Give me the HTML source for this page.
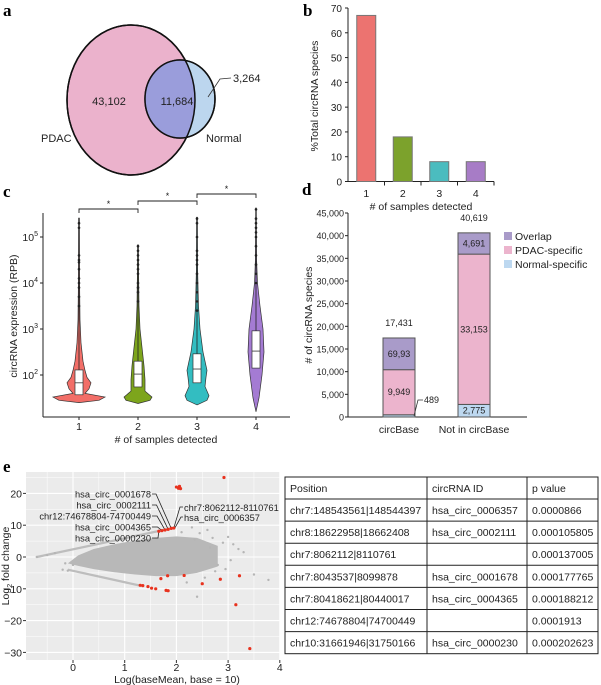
<!DOCTYPE html>
<html><head><meta charset="utf-8"><style>
body{margin:0;background:#fff;}
svg{display:block;font-family:"Liberation Sans",sans-serif;}
.pl{font-family:"Liberation Serif",serif;font-weight:bold;font-size:17px;}
</style></head><body>
<svg id="fig" width="601" height="685" viewBox="0 0 601 685">
<g>
<text class="pl" x="3" y="16">a</text>
<ellipse cx="131" cy="100" rx="64" ry="75" fill="#ebb2cc" stroke="#111" stroke-width="1.5"/>
<ellipse cx="180" cy="99" rx="35" ry="39" fill="#bcd6ee" stroke="#111" stroke-width="1.5"/>
<clipPath id="pc"><ellipse cx="131" cy="100" rx="64" ry="75"/></clipPath>
<ellipse cx="180" cy="99" rx="35" ry="39" fill="#9a9ddb" clip-path="url(#pc)"/>
<ellipse cx="180" cy="99" rx="35" ry="39" fill="none" stroke="#111" stroke-width="1.5"/>
<ellipse cx="131" cy="100" rx="64" ry="75" fill="none" stroke="#111" stroke-width="1.5"/>
<g font-size="11" fill="#222">
<text x="109" y="105" text-anchor="middle">43,102</text>
<text x="177" y="105" text-anchor="middle">11,684</text>
<text x="41" y="142">PDAC</text>
<text x="206" y="142">Normal</text>
<text x="233" y="82">3,264</text>
</g>
<polyline points="208,97 220,79 231,78" fill="none" stroke="#333" stroke-width="0.8"/>
</g>

<g id="pb">
<text class="pl" x="303" y="16">b</text>
</g>

<g id="pcv">
<text class="pl" x="3" y="197">c</text>
</g>

<g id="pd">
<text class="pl" x="302" y="195">d</text>
</g>

<g id="pe">
<text class="pl" x="3" y="472">e</text>
</g>

<g id="tbl"></g>
</svg>
<script>
const NS="http://www.w3.org/2000/svg";
function mk(parent,tag,attrs,txt){const e=document.createElementNS(NS,tag);for(const k in attrs)e.setAttribute(k,attrs[k]);if(txt!==undefined)e.textContent=txt;parent.appendChild(e);return e;}

/* ---------- Panel b data ---------- */
const bCategories=["1","2","3","4"];
const bValues=[67,18,8,8];
const bTicks=[0,10,20,30,40,50,60,70];
const bColors=["#ec7370","#7ca22c","#4bbcbf","#a77cc6"];
(function(){
  const g=document.getElementById('pb');
  const x0=348,x1=494,yb=181.5,yt=8,ymax=70;
  const ys=v=>yb-(v/ymax)*(yb-yt);
  const bw=(x1-x0)/bCategories.length;
  mk(g,'line',{x1:x0,y1:yt,x2:x0,y2:yb,stroke:'#222','stroke-width':1});
  mk(g,'line',{x1:x0,y1:yb,x2:x1,y2:yb,stroke:'#222','stroke-width':1});
  bTicks.forEach(t=>{
    mk(g,'line',{x1:x0-3,y1:ys(t),x2:x0,y2:ys(t),stroke:'#222'});
    const l=mk(g,'text',{x:x0-6,y:ys(t)+4,'text-anchor':'end','font-size':10,fill:'#222'},t);
    
    
  });
  bCategories.forEach((c,i)=>{
    const cx=x0+bw*(i+0.5);
    mk(g,'line',{x1:x0+bw*(i+1),y1:yb,x2:x0+bw*(i+1),y2:yb+4,stroke:'#222'});
    const r=mk(g,'rect',{x:cx-9.5,y:ys(bValues[i]),width:19,height:yb-ys(bValues[i]),fill:bColors[i],stroke:'#777','stroke-width':1});
    
    
    const t=mk(g,'text',{x:cx,y:197,'text-anchor':'middle','font-size':10.5,fill:'#222'},c);
    
    
  });
  const xt=mk(g,'text',{x:421,y:210,'text-anchor':'middle','font-size':10.5,fill:'#222'},'# of samples detected');
  
  
  const yt2=mk(g,'text',{x:0,y:0,'text-anchor':'middle','font-size':10.5,fill:'#222',transform:'translate(318,96) rotate(-90)'},'%Total circRNA species');
  
  
})();

/* ---------- Panel c data (log10 RPB) ---------- */
const cCategories=["1","2","3","4"];
const cQ1=[1.57,1.74,1.83,2.15];
const cMedian=[1.83,2.02,2.13,2.52];
const cQ3=[2.11,2.30,2.46,2.96];
const cMax=[5.41,4.83,5.43,5.63];
const cDensityLevels=[[1.40,1.45,1.52,1.60,1.70,1.83,1.95,2.1,2.3,2.7,3.2,4,5.41],[1.38,1.45,1.52,1.65,1.9,2.2,2.6,3.0,3.5,4.2,4.83],[1.35,1.45,1.55,1.75,1.95,2.1,2.5,3.0,3.5,4.3,5.43],[1.2,1.5,2.0,2.5,3.0,3.5,4.0,4.5,5.63]];
const cDensityWidths=[[0,20,26,6,10,12,8,6,4,2,1,0.6,0.4],[0,12,14,7,7,6,4,2,1,0.6,0.4],[0,10,12,8,9,10,6,3,1.5,0.6,0.4],[0,3,6,8,7,4,1.5,0.6,0.3]];
const cOutliers=[[3.5,3.7,3.9,4.0,4.1,4.3,4.45,4.5,4.6,5.2,5.3],[3.6,3.8,3.9,4.0,4.2,4.3,4.4,4.5,4.6,4.7,4.8],[3.4,3.6,3.8,4.0,4.2,4.4,4.5,4.6,4.7,5.0,5.3,5.4],[4.0,4.2,4.4,4.6,4.8,5.0,5.1,5.2,5.3,5.4,5.6]];
const cTickExp=[2,3,4,5];
const cColors=["#f26e68","#7da51c","#33bdc1","#a47bd3"];
(function(){
  const g=document.getElementById('pcv');
  const xL=43,xR=290,yBot=417,yTop=213;
  const ys=lv=>375-(lv-2)*46;
  const xs=i=>79+i*59;
  mk(g,'line',{x1:xL,y1:yTop,x2:xL,y2:yBot,stroke:'#222'});
  mk(g,'line',{x1:xL,y1:yBot,x2:xR,y2:yBot,stroke:'#222'});
  cTickExp.forEach(e=>{
    mk(g,'line',{x1:xL-3,y1:ys(e),x2:xL,y2:ys(e),stroke:'#222'});
    const t=mk(g,'text',{x:xL-5,y:ys(e)+4,'text-anchor':'end','font-size':10.5,fill:'#222'});
    
    
    mk(t,'tspan',{},'10');mk(t,'tspan',{dy:-5,'font-size':7},String(e));
  });
  cCategories.forEach((c,i)=>{
    const cx=xs(i);
    mk(g,'line',{x1:cx,y1:yBot,x2:cx,y2:yBot+3,stroke:'#222'});
    const tl=mk(g,'text',{x:cx,y:430,'text-anchor':'middle','font-size':10.5,fill:'#222'},c);
    
    
    const L=cDensityLevels[i],W=cDensityWidths[i];
    let d='M'+(cx+W[0])+','+ys(L[0]);
    for(let k=1;k<L.length;k++)d+=' L'+(cx+W[k])+','+ys(L[k]);
    for(let k=L.length-1;k>=0;k--)d+=' L'+(cx-W[k])+','+ys(L[k]);
    d+='Z';
    const v=mk(g,'path',{d:d,fill:cColors[i],stroke:'#333','stroke-width':0.7});
    
    
    mk(g,'line',{x1:cx,y1:ys(cQ3[i]),x2:cx,y2:ys(cMax[i]),stroke:'#222','stroke-width':0.8});
    cOutliers[i].forEach(o=>{
      const p=mk(g,'circle',{cx:cx,cy:ys(o),r:1.3,fill:'#222'});
      
      
    });
    const b=mk(g,'rect',{x:cx-4,y:ys(cQ3[i]),width:8,height:ys(cQ1[i])-ys(cQ3[i]),fill:'#fff',stroke:'#333','stroke-width':0.7});
    
    
    mk(g,'line',{x1:cx-4,y1:ys(cMedian[i]),x2:cx+4,y2:ys(cMedian[i]),stroke:'#333','stroke-width':0.8});
  });
  [[0,1,209],[1,2,201],[2,3,194]].forEach(b=>{
    const a=xs(b[0]),c=xs(b[1]);
    const br=mk(g,'polyline',{points:`${a},${b[2]+4} ${a},${b[2]} ${c},${b[2]} ${c},${b[2]+4}`,fill:'none',stroke:'#222','stroke-width':0.9});
    
    
    mk(g,'text',{x:(a+c)/2,y:b[2]-2,'text-anchor':'middle','font-size':9,fill:'#222'},'*');
  });
  const xt=mk(g,'text',{x:166,y:443,'text-anchor':'middle','font-size':10.5,fill:'#222'},'# of samples detected');
  
  
  const yt=mk(g,'text',{x:0,y:0,'text-anchor':'middle','font-size':10.5,fill:'#222',transform:'translate(17,316) rotate(-90)'},'circRNA expression (RPB)');
  
  
})();

/* ---------- Panel d data ---------- */
const dCategories=["circBase","Not in circBase"];
const dNormal=[489,2775];
const dPdac=[9949,33153];
const dOverlap=[6993,4691];
const dTotals=["17,431","40,619"];
const dPdacLabels=["9,949","33,153"];
const dOverlapLabels=["69,93","4,691"];
const dTicks=[0,5000,10000,15000,20000,25000,30000,35000,40000,45000];
(function(){
  const g=document.getElementById('pd');
  const x0=348,x1=527,yb=417,yt=213,max=45000;
  const ys=v=>yb-(v/max)*(yb-yt);
  const bx=[383,458],bw=32;
  mk(g,'line',{x1:x0,y1:yt,x2:x0,y2:yb,stroke:'#222'});
  mk(g,'line',{x1:x0,y1:yb,x2:x1,y2:yb,stroke:'#222'});
  dTicks.forEach(t=>{
    mk(g,'line',{x1:x0-3,y1:ys(t),x2:x0,y2:ys(t),stroke:'#222'});
    const l=mk(g,'text',{x:x0-4,y:ys(t)+3.5,'text-anchor':'end','font-size':9,fill:'#222'},t.toLocaleString('en-US'));
    
    
  });
  const cols={n:'#bdd8f0',p:'#ecb4cd',o:'#a99bc9'};
  dCategories.forEach((c,i)=>{
    const x=bx[i];
    const segs=[[0,dNormal[i],cols.n,'normal-specific'],[dNormal[i],dNormal[i]+dPdac[i],cols.p,'pdac-specific'],[dNormal[i]+dPdac[i],dNormal[i]+dPdac[i]+dOverlap[i],cols.o,'overlap']];
    segs.forEach(s=>{
      const r=mk(g,'rect',{x:x,y:ys(s[1]),width:bw,height:ys(s[0])-ys(s[1]),fill:s[2],stroke:'#555','stroke-width':1});
      
      
    });
    const tot=dNormal[i]+dPdac[i]+dOverlap[i];
    mk(g,'text',{x:x+bw/2,y:ys(tot)-12,'text-anchor':'middle','font-size':9,fill:'#222'},dTotals[i]);
    mk(g,'text',{x:x+bw/2,y:ys(dNormal[i]+dPdac[i]/2)+3,'text-anchor':'middle','font-size':9,fill:'#222'},dPdacLabels[i]);
    mk(g,'text',{x:x+bw/2,y:ys(dNormal[i]+dPdac[i]+dOverlap[i]/2)+3,'text-anchor':'middle','font-size':9,fill:'#222'},dOverlapLabels[i]);
    const xl=mk(g,'text',{x:x+bw/2,y:433,'text-anchor':'middle','font-size':10.5,fill:'#222'},c);
    
    
  });
  mk(g,'text',{x:bx[1]+bw/2,y:ys(dNormal[1]/2)+3,'text-anchor':'middle','font-size':9,fill:'#222'},'2,775');
  mk(g,'polyline',{points:`414,${ys(dNormal[0]/2)} 418,400 423,400`,fill:'none',stroke:'#333','stroke-width':0.8});
  mk(g,'text',{x:424,y:403,'font-size':9,fill:'#222'},'489');
  [['Overlap',cols.o,236],['PDAC-specific',cols.p,250],['Normal-specific',cols.n,264]].forEach(L=>{
    const r=mk(g,'rect',{x:504,y:L[2]-4,width:8,height:8,fill:L[1]});
    
    
    const t=mk(g,'text',{x:515,y:L[2]+4,'font-size':10.5,fill:'#222'},L[0]);
    
    
  });
  const yt2=mk(g,'text',{x:0,y:0,'text-anchor':'middle','font-size':10.5,fill:'#222',transform:'translate(312,315) rotate(-90)'},'# of circRNA species');
  
  
})();

/* ---------- Panel e data ---------- */
const eXTicks=[0,1,2,3,4];
const eYTicks=[20,10,0,-10,-20,-30];
const eRedX=[1.66,1.72,1.78,1.84,1.9,1.95,2.0,2.04,2.06,2.08,2.92,1.3,1.35,1.45,1.52,1.6,1.7,1.83,1.8,1.84,2.15,2.5,2.85,3.22,3.15,3.42];
const eRedY=[8.1,8.3,8.5,8.7,9.0,9.1,22,21.6,22.2,21.5,25,-8.9,-9.0,-9.3,-9.8,-10.0,-6.8,-5.9,-10.5,-10.6,-5.8,-8.4,-7.0,-5.9,-15.0,-28.8];
const eGrayX=[-0.7,-0.5,-0.35,-0.2,-0.1,0.0,-0.15,2.3,2.45,2.6,2.7,2.9,3.0,3.1,3.3,3.5,3.78,2.4,2.2,2.55,2.75,2.95,3.05,3.2,2.1,2.35,2.65,2.8];
const eGrayY=[0.0,0.6,1.2,-4.0,-4.3,-2.5,-2.0,9.3,7.5,8.5,6.0,4.5,6.3,4.0,1.5,-5.5,-7.2,-12.5,-8.0,-6.5,-4.5,-3.8,-1.0,2.5,7.8,5.5,3.0,-2.5];
const eCloudTopX=[-0.1,0.1,0.4,0.8,1.2,1.6,2.0,2.4,2.8];
const eCloudTopY=[-2,0.5,2.5,4,5.2,6,6.5,6,3.5];
const eCloudBotX=[2.8,2.4,2.0,1.6,1.2,0.8,0.4,0.1,-0.1];
const eCloudBotY=[-3,-5,-6,-6,-5.5,-4.8,-3.8,-2.8,-2];
const eBandUpX=[-0.7,1.9];const eBandUpY=[0.0,9.0];
const eBandLoX=[-0.1,1.3];const eBandLoY=[-4.0,-9.0];
(function(){
  const g=document.getElementById('pe');
  const pl=26,pr=280,pt=472,pb=660;
  const xs=v=>73+v*51.7;
  const ys=v=>557-v*3.18;
  const bg=mk(g,'rect',{x:pl,y:pt,width:pr-pl,height:pb-pt,fill:'#ebebeb'});
  
  
  for(let v=-0.5;v<=4;v+=0.5){const X=xs(v);if(X>pl&&X<pr)mk(g,'line',{x1:X,y1:pt,x2:X,y2:pb,stroke:'#fff','stroke-width':Number.isInteger(v)?1.1:0.5});}
  for(let v=-30;v<=25;v+=5){const Y=ys(v);if(Y>pt&&Y<pb)mk(g,'line',{x1:pl,y1:Y,x2:pr,y2:Y,stroke:'#fff','stroke-width':v%10===0?1.1:0.5});}
  let d='';
  eCloudTopX.forEach((x,i)=>{d+=(i?' L':'M')+xs(x)+','+ys(eCloudTopY[i]);});
  eCloudBotX.forEach((x,i)=>{d+=' L'+xs(x)+','+ys(eCloudBotY[i]);});
  d+='Z';
  const cl=mk(g,'path',{d:d,fill:'#b8b8b8'});
  
  
  mk(g,'line',{x1:xs(eBandUpX[0]),y1:ys(eBandUpY[0]),x2:xs(eBandUpX[1]),y2:ys(eBandUpY[1]),stroke:'#bdbdbd','stroke-width':2.2});
  mk(g,'line',{x1:xs(eBandLoX[0]),y1:ys(eBandLoY[0]),x2:xs(eBandLoX[1]),y2:ys(eBandLoY[1]),stroke:'#bdbdbd','stroke-width':2.2});
  eGrayX.forEach((x,i)=>{
    const p=mk(g,'circle',{cx:xs(x),cy:ys(eGrayY[i]),r:1.2,fill:'#b5b5b5'});
    
    
  });
  const labs=[['hsa_circ_0001678',494,0],['hsa_circ_0002111',505,1],['chr12:74678804-74700449',516,2],['hsa_circ_0004365',527,3],['hsa_circ_0000230',538,4]];
  labs.forEach(L=>{
    const t=mk(g,'text',{x:151,y:L[1]+3.5,'text-anchor':'end','font-size':9.3,fill:'#222'},L[0]);
    
    
    const px=xs(eRedX[4-L[2]]),py=ys(eRedY[4-L[2]]);
    mk(g,'polyline',{points:`152,${L[1]} ${156+L[2]*0.5},${L[1]} ${px},${py}`,fill:'none',stroke:'#222','stroke-width':0.8});
  });
  const a1=mk(g,'text',{x:184,y:511,'font-size':9.3,fill:'#222'},'chr7:8062112-8110761');
  
  
  const a2=mk(g,'text',{x:184,y:521,'font-size':9.3,fill:'#222'},'hsa_circ_0006357');
  
  
  mk(g,'polyline',{points:`183,507 180,507 ${xs(eRedX[5])},${ys(eRedY[5])}`,fill:'none',stroke:'#222','stroke-width':0.8});
  mk(g,'polyline',{points:`183,517 181,517 ${xs(eRedX[5])+1},${ys(eRedY[5])}`,fill:'none',stroke:'#222','stroke-width':0.8});
  eRedX.forEach((x,i)=>{
    const p=mk(g,'circle',{cx:xs(x),cy:ys(eRedY[i]),r:1.6,fill:'#e8321e'});
    
    
  });
  eXTicks.forEach(t=>{
    mk(g,'line',{x1:xs(t),y1:pb,x2:xs(t),y2:pb+3,stroke:'#333'});
    const l=mk(g,'text',{x:xs(t),y:671,'text-anchor':'middle','font-size':10.5,fill:'#222'},t);
    
    
  });
  eYTicks.forEach(t=>{
    mk(g,'line',{x1:pl-3,y1:ys(t),x2:pl,y2:ys(t),stroke:'#333'});
    const l=mk(g,'text',{x:pl-4,y:ys(t)+4,'text-anchor':'end','font-size':10.5,fill:'#222'},t<0?'\u2212'+(-t):t);
    
    
  });
  const xt=mk(g,'text',{x:177,y:683,'text-anchor':'middle','font-size':10.5,fill:'#222'},'Log(baseMean, base = 10)');
  
  
  const yt=mk(g,'text',{x:0,y:0,'text-anchor':'middle','font-size':10.5,fill:'#222',transform:'translate(9,566) rotate(-90)'});
  
  
  mk(yt,'tspan',{},'Log');mk(yt,'tspan',{dy:3,'font-size':7},'2');mk(yt,'tspan',{dy:-3},' fold change');
})();

/* ---------- Table ---------- */
const tPositions=["chr7:148543561|148544397","chr8:18622958|18662408","chr7:8062112|8110761","chr7:8043537|8099878","chr7:80418621|80440017","chr12:74678804|74700449","chr10:31661946|31750166"];
const tIds=["hsa_circ_0006357","hsa_circ_0002111","","hsa_circ_0001678","hsa_circ_0004365","","hsa_circ_0000230"];
const tPvals=["0.0000866","0.000105805","0.000137005","0.000177765","0.000188212","0.0001913","0.000202623"];
(function(){
  const g=document.getElementById('tbl');
  const cx=[285,427,527,598],top=477,hh=22,rh=22.1;
  const bottom=top+hh+rh*tPositions.length;
  mk(g,'rect',{x:cx[0],y:top,width:cx[3]-cx[0],height:bottom-top,fill:'#fff',stroke:'#222','stroke-width':1});
  mk(g,'line',{x1:cx[1],y1:top,x2:cx[1],y2:bottom,stroke:'#222'});
  mk(g,'line',{x1:cx[2],y1:top,x2:cx[2],y2:bottom,stroke:'#222'});
  const hdr=["Position","circRNA ID","p value"];
  hdr.forEach((h,j)=>{
    const t=mk(g,'text',{x:cx[j]+5,y:top+15,'font-size':10.5,fill:'#222'},h);
    
    
  });
  tPositions.forEach((p,i)=>{
    const y=top+hh+rh*i;
    mk(g,'line',{x1:cx[0],y1:y,x2:cx[3],y2:y,stroke:'#222'});
    [p,tIds[i],tPvals[i]].forEach((v,j)=>{
      const t=mk(g,'text',{x:cx[j]+5,y:y+15,'font-size':10.5,fill:'#222'},v);
      
      
    });
  });
})();
</script>
</body></html>
